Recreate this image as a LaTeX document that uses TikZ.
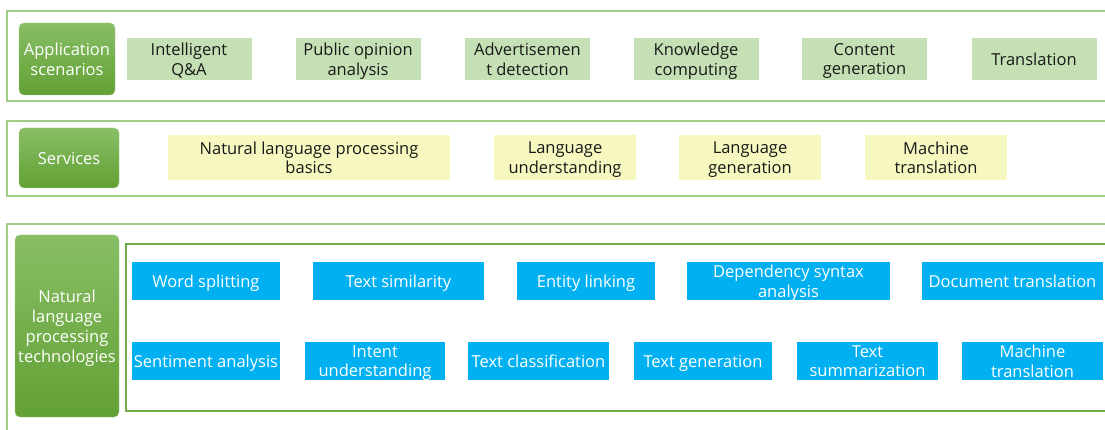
\documentclass[tikz,border=0pt]{standalone}
\usepackage{fontspec}
\setmainfont{Open Sans}
\usepackage{tikz}
\definecolor{frame}{RGB}{160, 204, 134}
\definecolor{inner}{RGB}{112, 173, 71}
\definecolor{topgreen}{RGB}{136, 190, 102}
\definecolor{botgreen}{RGB}{98, 161, 52}
\definecolor{scene}{RGB}{197, 224, 180}
\definecolor{service}{RGB}{247, 248, 192}
\definecolor{tech}{RGB}{0, 176, 240}
\definecolor{ink}{RGB}{25, 25, 25}
\tikzset{
  layer/.style={rounded corners=5pt, top color=topgreen, bottom color=botgreen,
    draw=botgreen!60, line width=0.4pt, text=white, align=center,
    font=\fontsize{16.5}{20}\selectfont, inner sep=0pt, text depth=0pt},
  scenebox/.style={fill=scene, text=ink, align=center, minimum width=125pt,
    minimum height=42pt, inner sep=0pt, text depth=0pt,
    font=\fontsize{16.5}{19.5}\selectfont},
  servicebox/.style={fill=service, text=ink, align=center, minimum width=142pt,
    minimum height=45pt, inner sep=0pt, text depth=0pt,
    font=\fontsize{16.5}{19.5}\selectfont},
  techbox/.style={fill=tech, text=white, align=center, minimum height=38.5pt,
    inner sep=0pt, text depth=0pt, font=\fontsize{16.5}{19.5}\selectfont}
}

\begin{document}
\begin{tikzpicture}[x=1pt, y=-1pt]
  % Size
  \useasboundingbox (0, 0) rectangle (1105, 430);
  \clip (0, 0) rectangle (1105, 430);

  % Positioning
  \pgfmathsetmacro{\rowA}{59}
  \pgfmathsetmacro{\rowB}{157.5}
  \pgfmathsetmacro{\rowC}{281}
  \pgfmathsetmacro{\rowD}{361}

  % Frames
  \draw[frame, line width=1.3pt] (7, 11) rectangle (1115, 101);
  \draw[frame, line width=1.3pt] (7, 121) rectangle (1115, 196);
  \draw[frame, line width=1.3pt] (7, 224) rectangle (1115, 445);
  \draw[inner, line width=1.2pt] (126, 244) rectangle (1115, 411);

  % Application scenarios
  \node[layer, minimum width=96pt, minimum height=72pt] (apps) at (67, \rowA)
    {Application\\scenarios};
  \node[scenebox] (qa)        at (189, \rowA)   {Intelligent\\Q\&A};
  \node[scenebox] (opinion)   at (358, \rowA)   {Public opinion\\analysis};
  \node[scenebox] (advert)    at (527.5, \rowA) {Advertisemen\\t detection};
  \node[scenebox] (knowledge) at (696, \rowA)   {Knowledge\\computing};
  \node[scenebox] (content)   at (864.5, \rowA) {Content\\generation};
  \node[scenebox] (transl)    at (1034, \rowA)  {Translation};

  % Services
  \node[layer, minimum width=100pt, minimum height=60pt] (services) at (69, 158)
    {Services};
  \node[servicebox, minimum width=282pt] (basics) at (309, \rowB)
    {Natural language processing\\basics};
  \node[servicebox] (understand) at (565, \rowB) {Language\\understanding};
  \node[servicebox] (generate)   at (750, \rowB) {Language\\generation};
  \node[servicebox] (machine)    at (936, \rowB) {Machine\\translation};

  % Technologies
  \node[layer, minimum width=104pt, minimum height=182pt] (nlp) at (67, 326)
    {Natural\\language\\processing\\technologies};
  \node[techbox, minimum width=148pt] (word)       at (206, \rowC)    {Word splitting};
  \node[techbox, minimum width=171pt] (similarity) at (398.5, \rowC)  {Text similarity};
  \node[techbox, minimum width=138pt] (entity)     at (586, \rowC)    {Entity linking};
  \node[techbox, minimum width=203pt] (dependency) at (788.5, \rowC)  {Dependency syntax\\analysis};
  \node[techbox, minimum width=181pt] (document)   at (1012.5, \rowC) {Document translation};

  \node[techbox, minimum width=148pt] (sentiment) at (206, \rowD)    {Sentiment analysis};
  \node[techbox, minimum width=140pt] (intent)    at (375, \rowD)    {Intent\\understanding};
  \node[techbox, minimum width=141pt] (classify)  at (538.5, \rowD)  {Text classification};
  \node[techbox, minimum width=138pt] (textgen)   at (703, \rowD)    {Text generation};
  \node[techbox, minimum width=141pt] (summary)   at (867.5, \rowD)  {Text\\summarization};
  \node[techbox, minimum width=141pt] (mt)        at (1032.5, \rowD) {Machine\\translation};
\end{tikzpicture}
\end{document}
